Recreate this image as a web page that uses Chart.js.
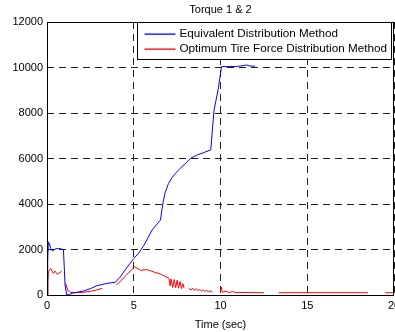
<!DOCTYPE html>
<html>
<head>
<meta charset="UTF-8">
<title>Torque 1 & 2</title>
<script src="https://cdn.jsdelivr.net/npm/chart.js"></script>
<style>
    body { margin: 0; background: #ffffff; }
    .wrap { width: 395px; height: 332px; position: relative; }
</style>
</head>
<body>
<div class="wrap"><canvas id="torqueChart"></canvas></div>
<script>
// Equivalent Distribution Method
const equivTime = [0, 0.04, 0.08, 0.14, 0.21, 0.33, 0.46, 0.66, 0.85, 0.95, 1.04, 1.14, 1.3, 1.5, 2.1, 2.5, 2.88, 3.45, 3.94,
    4.23, 4.5, 5.0, 5.3, 5.6, 6.06, 6.54, 6.68, 6.8, 7.0, 7.2, 7.41, 7.65, 7.9, 8.28, 8.67, 9.0, 9.44, 9.53, 9.63, 9.86, 10.06,
    10.5, 11.0, 11.3, 11.5, 11.7, 12.0];
const equivTorque = [0, 1500, 2340, 2250, 2050, 1930, 2020, 2050, 2020, 1980, 440, 0, 30, 90, 175, 280, 410, 510, 560,
    800, 1100, 1600, 1860, 2200, 2860, 3300, 4030, 4480, 4900, 5150, 5350, 5550, 5720, 6010, 6160, 6250, 6380, 7250, 8130, 9010, 10040,
    10040, 10050, 10080, 10110, 10060, 10060];

// Optimum Tire Force Distribution Method (null = gap in the trace)
const optTime = [0, 0.05, 0.08, 0.21, 0.37, 0.46, 0.6, 0.85, 0.95,
    1.08, 1.2, 1.35, 1.6, 2.0, 2.5, 2.9, 3.17, 3.3,
    4.0, 4.3, 4.6, 5.06, 5.25, 5.4, 5.6, 5.8, 6.2, 6.54, 7.03, 7.1, 7.15, 7.25, 7.33, 7.42, 7.5, 7.58, 7.67, 7.75, 7.83, 7.9, 8.05,
    8.17, 8.3, 8.4, 8.5, 8.6, 8.7, 8.8, 8.9, 9.0, 9.1, 9.2, 9.3, 9.4, 9.54, 9.8,
    10.0, 10.05, 10.1, 10.3, 10.5, 10.7, 10.9, 11.2, 12.5, 12.9,
    13.36, 18.5, 19.0,
    19.5, 20.0];
const optTorque = [0, 600, 1020, 1170, 950, 1050, 910, 1050, null,
    510, 200, 120, 100, 110, 160, 230, 290, null,
    440, 650, 900, 1245, 1150, 1080, 1110, 1110, 1000, 920, 735, 400, 700, 330, 680, 320, 650, 300, 600, 280, 500, 300, null,
    300, 220, 300, 200, 280, 190, 250, 170, 230, 150, 210, 140, 180, 130, null,
    145, 350, 120, 170, 110, 150, 100, 110, 100, null,
    100, 100, null,
    100, 100];

const xTicks = [0, 5, 10, 15, 20];
const yTicks = [0, 2000, 4000, 6000, 8000, 10000, 12000];
const lineColors = ['#0000ff', '#ff0000'];
const chartTitle = 'Torque 1 & 2';

const toPoints = (xs, ys) => xs.map((x, i) => ({ x: x, y: ys[i] }));

// frame, title over the axes, and boxed legend like the MATLAB figure
const matlabFrame = {
    id: 'matlabFrame',
    afterDraw(chart) {
        const ctx = chart.ctx;
        const a = chart.chartArea;
        ctx.save();
        ctx.setLineDash([]);
        ctx.lineWidth = 1;
        ctx.strokeStyle = '#000';
        ctx.strokeRect(Math.round(a.left) + 0.5, Math.round(a.top) + 0.5,
            Math.round(a.right - a.left) - 1, Math.round(a.bottom - a.top));

        ctx.fillStyle = '#000';
        ctx.font = '11px "Liberation Sans", Arial, sans-serif';
        ctx.textAlign = 'center';
        ctx.textBaseline = 'middle';
        ctx.fillText(chartTitle, (a.left + a.right) / 2, 10);

        // legend box
        const bx = Math.round(a.right) - 256.5, by = Math.round(a.top) + 0.5;
        const bw = 254, bh = 37;
        ctx.fillStyle = '#fff';
        ctx.fillRect(bx, by, bw, bh);
        ctx.strokeRect(bx, by, bw, bh);
        ctx.font = '11.7px "Liberation Sans", Arial, sans-serif';
        ctx.textAlign = 'left';
        chart.data.datasets.forEach((ds, i) => {
            const yy = Math.round(by + 11 + i * 15.5);
            ctx.fillStyle = lineColors[i];
            ctx.fillRect(bx + 7, yy - 0.5, 31, 1.3);
            ctx.fillStyle = '#000';
            ctx.fillText(ds.label, bx + 42, yy);
        });
        ctx.restore();
    }
};

new Chart(document.getElementById('torqueChart'), {
    type: 'line',
    data: {
        datasets: [{
            label: 'Equivalent Distribution Method',
            data: toPoints(equivTime, equivTorque),
            borderColor: lineColors[0],
            borderWidth: 1,
            pointRadius: 0,
            tension: 0,
            spanGaps: false
        }, {
            label: 'Optimum Tire Force Distribution Method',
            data: toPoints(optTime, optTorque),
            borderColor: lineColors[1],
            borderWidth: 1,
            pointRadius: 0,
            tension: 0,
            spanGaps: false
        }]
    },
    options: {
        responsive: true,
        maintainAspectRatio: false,
        animation: false,
        layout: { padding: { left: 0, right: 1, top: 22, bottom: 0 } },
        font: { family: '"Liberation Sans", Arial, sans-serif' },
        scales: {
            x: {
                type: 'linear',
                min: 0,
                max: 20,
                afterBuildTicks: s => { s.ticks = xTicks.map(v => ({ value: v })); },
                afterFit: s => { s.height = 37; s.paddingLeft = 0; s.paddingRight = 0; },
                grid: { color: '#222', lineWidth: 1, drawTicks: false },
                border: { display: false, dash: [7, 5] },
                ticks: { color: '#000', padding: 4, maxRotation: 0, font: { size: 11 } },
                title: {
                    display: true, text: 'Time (sec)', color: '#000',
                    font: { size: 11 }, padding: { top: 1, bottom: 0 }
                }
            },
            y: {
                min: 0,
                max: 12000,
                afterBuildTicks: s => { s.ticks = yTicks.map(v => ({ value: v })); },
                afterFit: s => { s.width = 47; s.paddingTop = 0; s.paddingBottom = 0; },
                grid: { color: '#222', lineWidth: 1, drawTicks: false },
                border: { display: false, dash: [7, 5] },
                ticks: { color: '#000', padding: 4, font: { size: 11 }, callback: v => String(v) }
            }
        },
        plugins: {
            legend: { display: false },
            tooltip: { enabled: false },
            title: { display: false }
        }
    },
    plugins: [matlabFrame]
});
</script>
</body>
</html>
